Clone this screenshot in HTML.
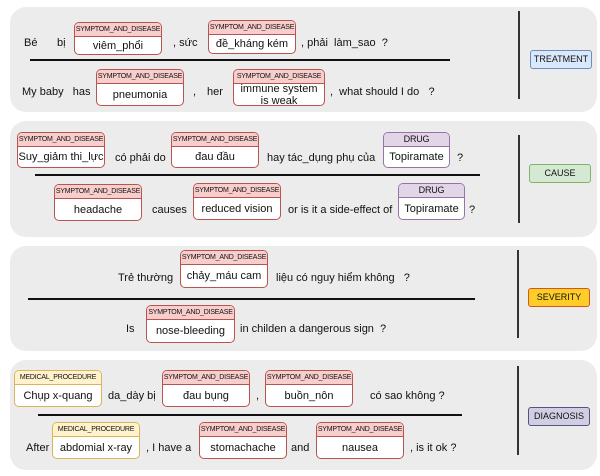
<!DOCTYPE html>
<html><head><meta charset="utf-8"><style>
*{margin:0;padding:0;box-sizing:border-box}
body{width:600px;height:476px;background:#fff;position:relative;overflow:hidden;font-family:"Liberation Sans","Noto Sans CJK SC",sans-serif;color:#111}
.p{position:absolute;left:10px;width:587px;background:#ececec;border-radius:16px}
.v{position:absolute;width:2px;background:#333}
.hl{position:absolute;height:2px;background:#111}
.t{position:absolute;font-size:11px;white-space:nowrap;line-height:12px}
.e{position:absolute;border:1px solid #b85450;border-radius:5px;background:#fff;overflow:hidden}
.e .h{height:14px;background:#f8cecc;border-bottom:1px solid #b85450;font-size:7px;text-align:center;line-height:13px;letter-spacing:-0.2px}
.e .b{position:absolute;top:14px;left:0;right:0;bottom:0;display:flex;align-items:center;justify-content:center;font-size:11px;text-align:center;line-height:12px}
.m{border-color:#d6b656}.m .h{background:#fff2cc;border-color:#d6b656}
.d{border-color:#9673a6}.d .h{background:#e1d5e7;border-color:#9673a6;font-size:9px}
.l{position:absolute;font-size:9px;text-align:center;border-radius:3px;line-height:17px;border:1px solid}
</style></head><body>
<div class="p" style="top:7px;height:105px"></div>
<div class="p" style="top:121px;height:116px"></div>
<div class="p" style="top:246px;height:105px"></div>
<div class="p" style="top:360px;height:110px"></div>

<div class="v" style="left:518px;top:11px;height:88px"></div>
<div class="v" style="left:518px;top:135px;height:88px"></div>
<div class="v" style="left:517px;top:250px;height:88px"></div>
<div class="v" style="left:517px;top:366px;height:89px"></div>

<div class="l" style="left:530px;top:50px;width:62px;background:#dae8fc;border-color:#6c8ebf">TREATMENT</div>
<div class="l" style="left:529px;top:164px;width:62px;background:#d5e8d4;border-color:#82b366">CAUSE</div>
<div class="l" style="left:528px;top:288px;width:62px;background:#ffcd28;border-color:#d6541d">SEVERITY</div>
<div class="l" style="left:528px;top:407px;width:62px;background:#d0cee2;border-color:#56517e">DIAGNOSIS</div>

<div class="hl" style="left:30px;top:59px;width:420px"></div>
<div class="hl" style="left:35px;top:174px;width:445px"></div>
<div class="hl" style="left:28px;top:298px;width:447px"></div>
<div class="hl" style="left:38px;top:414px;width:424px"></div>

<!-- panel 1 -->
<div class="t" style="left:24px;top:37px">Bé</div>
<div class="t" style="left:57px;top:37px">bị</div>
<div class="e" style="left:74px;top:22px;width:88px;height:33px"><div class="h">SYMPTOM_AND_DISEASE</div><div class="b">viêm_phổi</div></div>
<div class="t" style="left:173px;top:37px">, sức</div>
<div class="e" style="left:208px;top:20px;width:88px;height:34px"><div class="h">SYMPTOM_AND_DISEASE</div><div class="b">đề_kháng kém</div></div>
<div class="t" style="left:301px;top:37px">, phải &nbsp;làm_sao &nbsp;?</div>
<div class="t" style="left:22px;top:86px">My baby &nbsp;&nbsp;has</div>
<div class="e" style="left:96px;top:69px;width:88px;height:37px"><div class="h">SYMPTOM_AND_DISEASE</div><div class="b">pneumonia</div></div>
<div class="t" style="left:193px;top:86px">,</div>
<div class="t" style="left:207px;top:86px">her</div>
<div class="e" style="left:233px;top:69px;width:92px;height:37px"><div class="h">SYMPTOM_AND_DISEASE</div><div class="b">immune system<br>is weak</div></div>
<div class="t" style="left:330px;top:86px">, &nbsp;what should I do &nbsp;&nbsp;?</div>

<!-- panel 2 -->
<div class="e" style="left:17px;top:132px;width:88px;height:36px"><div class="h">SYMPTOM_AND_DISEASE</div><div class="b">Suy_giảm thi_lực</div></div>
<div class="t" style="left:115px;top:152px">có phải do</div>
<div class="e" style="left:171px;top:132px;width:88px;height:36px"><div class="h">SYMPTOM_AND_DISEASE</div><div class="b">đau đầu</div></div>
<div class="t" style="left:267px;top:152px">hay tác_dụng phụ của</div>
<div class="e d" style="left:383px;top:132px;width:67px;height:36px"><div class="h">DRUG</div><div class="b">Topiramate</div></div>
<div class="t" style="left:457px;top:152px">?</div>
<div class="e" style="left:54px;top:184px;width:88px;height:37px"><div class="h">SYMPTOM_AND_DISEASE</div><div class="b">headache</div></div>
<div class="t" style="left:152px;top:204px">causes</div>
<div class="e" style="left:193px;top:183px;width:88px;height:37px"><div class="h">SYMPTOM_AND_DISEASE</div><div class="b">reduced vision</div></div>
<div class="t" style="left:288px;top:204px">or is it a side-effect of</div>
<div class="e d" style="left:398px;top:183px;width:67px;height:37px"><div class="h">DRUG</div><div class="b">Topiramate</div></div>
<div class="t" style="left:469px;top:204px">?</div>

<!-- panel 3 -->
<div class="t" style="left:118px;top:272px">Trẻ thường</div>
<div class="e" style="left:180px;top:250px;width:88px;height:38px"><div class="h">SYMPTOM_AND_DISEASE</div><div class="b">chảy_máu cam</div></div>
<div class="t" style="left:276px;top:272px">liệu có nguy hiểm không &nbsp;&nbsp;?</div>
<div class="t" style="left:126px;top:323px">Is</div>
<div class="e" style="left:146px;top:305px;width:89px;height:38px"><div class="h">SYMPTOM_AND_DISEASE</div><div class="b">nose-bleeding</div></div>
<div class="t" style="left:240px;top:323px">in childen a dangerous sign &nbsp;?</div>

<!-- panel 4 -->
<div class="e m" style="left:14px;top:370px;width:88px;height:37px"><div class="h">MEDICAL_PROCEDURE</div><div class="b">Chụp x-quang</div></div>
<div class="t" style="left:108px;top:390px">da_dày bị</div>
<div class="e" style="left:162px;top:370px;width:88px;height:37px"><div class="h">SYMPTOM_AND_DISEASE</div><div class="b">đau bụng</div></div>
<div class="t" style="left:256px;top:390px">,</div>
<div class="e" style="left:265px;top:370px;width:88px;height:37px"><div class="h">SYMPTOM_AND_DISEASE</div><div class="b">buồn_nôn</div></div>
<div class="t" style="left:370px;top:390px">có sao không ?</div>
<div class="t" style="left:26px;top:442px">After</div>
<div class="e m" style="left:52px;top:422px;width:88px;height:37px"><div class="h">MEDICAL_PROCEDURE</div><div class="b">abdomial x-ray</div></div>
<div class="t" style="left:146px;top:442px">, I have a</div>
<div class="e" style="left:199px;top:422px;width:88px;height:37px"><div class="h">SYMPTOM_AND_DISEASE</div><div class="b">stomachache</div></div>
<div class="t" style="left:291px;top:442px">and</div>
<div class="e" style="left:316px;top:422px;width:88px;height:37px"><div class="h">SYMPTOM_AND_DISEASE</div><div class="b">nausea</div></div>
<div class="t" style="left:410px;top:442px">, is it ok ?</div>
</body></html>
